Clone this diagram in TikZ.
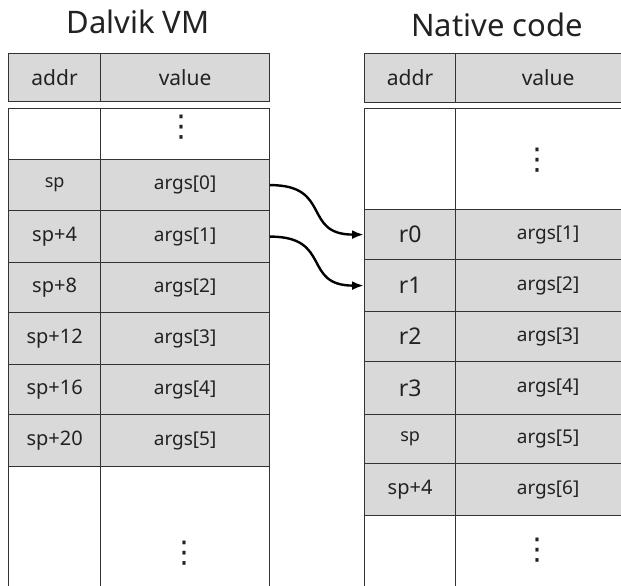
\documentclass[tikz,border=0pt]{standalone}
\usepackage{fontspec}
\setmainfont{Noto Sans}
\newfontfamily\dvfont{DejaVu Sans}
\usetikzlibrary{arrows.meta}
\definecolor{linec}{HTML}{333333}
\definecolor{cellg}{HTML}{D9D9D9}
\definecolor{txt}{HTML}{222222}
\newcommand\hdrfont{\fontsize{21}{24}\selectfont}
\newcommand\valfont{\fontsize{19}{22}\selectfont}
\newcommand\adrfont{\fontsize{20}{23}\selectfont}
\newcommand\spfont{\fontsize{18}{21}\selectfont}
\newcommand\regfont{\fontsize{23}{26}\selectfont}
\newcommand\ttlfont{\fontsize{31}{36}\selectfont}
\begin{document}
\begin{tikzpicture}[x=1pt,y=-1pt,
  cellbox/.style={draw=linec, line width=1.2pt, inner sep=0pt, anchor=north west, text=txt},
  shaded/.style={cellbox, fill=cellg},
  plain/.style={cellbox, fill=white},
  vd/.style={font=\dvfont\fontsize{30}{34}\selectfont, text=txt, inner sep=0pt},
  ttl/.style={font=\ttlfont, text=txt, inner sep=0pt},
  arr/.style={line width=2.4pt, draw=black, -{Latex[length=12pt,width=9pt]}},
]
\useasboundingbox (0,0) rectangle (621,586);
\fill[white] (0,0) rectangle (621,586);

% titles
\node[ttl] (tL) at (138,21.5) {Dalvik VM};
\node[ttl] (tR) at (497,24.5) {Native code};

% ---- left table (Dalvik VM)
\node[shaded, minimum width=92pt, minimum height=48pt, font=\hdrfont] (Lha) at (8,53) {addr};
\node[shaded, minimum width=169pt, minimum height=48pt, font=\hdrfont] (Lhv) at (100,53) {value};

\node[plain, minimum width=92pt, minimum height=51pt] (La0) at (8,108) {};
\node[plain, minimum width=169pt, minimum height=51pt] (Lv0) at (100,108) {};
\node[vd] (dL1) at (181,127) {⋮};

\node[shaded, minimum width=92pt, minimum height=51pt, font=\spfont] (La1) at (8,159) {sp};
\node[shaded, minimum width=169pt, minimum height=51pt, font=\valfont] (Lv1) at (100,159) {args[0]};

\node[shaded, minimum width=92pt, minimum height=52pt, font=\adrfont] (La2) at (8,210) {sp+4};
\node[shaded, minimum width=169pt, minimum height=52pt, font=\valfont] (Lv2) at (100,210) {args[1]};

\node[shaded, minimum width=92pt, minimum height=50pt, font=\adrfont] (La3) at (8,262) {sp+8};
\node[shaded, minimum width=169pt, minimum height=50pt, font=\valfont] (Lv3) at (100,262) {args[2]};

\node[shaded, minimum width=92pt, minimum height=52pt, font=\adrfont] (La4) at (8,312) {sp+12};
\node[shaded, minimum width=169pt, minimum height=52pt, font=\valfont] (Lv4) at (100,312) {args[3]};

\node[shaded, minimum width=92pt, minimum height=50pt, font=\adrfont] (La5) at (8,364) {sp+16};
\node[shaded, minimum width=169pt, minimum height=50pt, font=\valfont] (Lv5) at (100,364) {args[4]};

\node[shaded, minimum width=92pt, minimum height=52pt, font=\adrfont] (La6) at (8,414) {sp+20};
\node[shaded, minimum width=169pt, minimum height=52pt, font=\valfont] (Lv6) at (100,414) {args[5]};

\node[plain, minimum width=92pt, minimum height=150pt] (La7) at (8,466) {};
\node[plain, minimum width=169pt, minimum height=150pt] (Lv7) at (100,466) {};
\node[vd] (dL2) at (184,553) {⋮};

% ---- right table (Native code)
\node[shaded, minimum width=91pt, minimum height=49pt, font=\hdrfont] (Rha) at (364,53) {addr};
\node[shaded, minimum width=185pt, minimum height=49pt, font=\hdrfont] (Rhv) at (455,53) {value};

\node[plain, minimum width=91pt, minimum height=101pt] (Ra0) at (364,108) {};
\node[plain, minimum width=185pt, minimum height=101pt] (Rv0) at (455,108) {};
\node[vd] (dR1) at (537,160) {⋮};

\node[shaded, minimum width=91pt, minimum height=50pt, font=\regfont] (Ra1) at (364,209) {r0};
\node[shaded, minimum width=185pt, minimum height=50pt, font=\valfont] (Rv1) at (455,209) {args[1]};

\node[shaded, minimum width=91pt, minimum height=52pt, font=\regfont] (Ra2) at (364,259) {r1};
\node[shaded, minimum width=185pt, minimum height=52pt, font=\valfont] (Rv2) at (455,259) {args[2]};

\node[shaded, minimum width=91pt, minimum height=50pt, font=\regfont] (Ra3) at (364,311) {r2};
\node[shaded, minimum width=185pt, minimum height=50pt, font=\valfont] (Rv3) at (455,311) {args[3]};

\node[shaded, minimum width=91pt, minimum height=53pt, font=\regfont] (Ra4) at (364,361) {r3};
\node[shaded, minimum width=185pt, minimum height=53pt, font=\valfont] (Rv4) at (455,361) {args[4]};

\node[shaded, minimum width=91pt, minimum height=49pt, font=\spfont] (Ra5) at (364,414) {sp};
\node[shaded, minimum width=185pt, minimum height=49pt, font=\valfont] (Rv5) at (455,414) {args[5]};

\node[shaded, minimum width=91pt, minimum height=52pt, font=\adrfont] (Ra6) at (364,463) {sp+4};
\node[shaded, minimum width=185pt, minimum height=52pt, font=\valfont] (Rv6) at (455,463) {args[6]};

\node[plain, minimum width=91pt, minimum height=100pt] (Ra7) at (364,515) {};
\node[plain, minimum width=185pt, minimum height=100pt] (Rv7) at (455,515) {};
\node[vd] (dR2) at (537,550) {⋮};

% ---- connectors
\draw[arr] (Lv1.east) to[out=0,in=180,looseness=1.5] (Ra1.west);
\draw[arr] (Lv2.east) to[out=0,in=180,looseness=1.5] (Ra2.west);
\end{tikzpicture}
\end{document}
